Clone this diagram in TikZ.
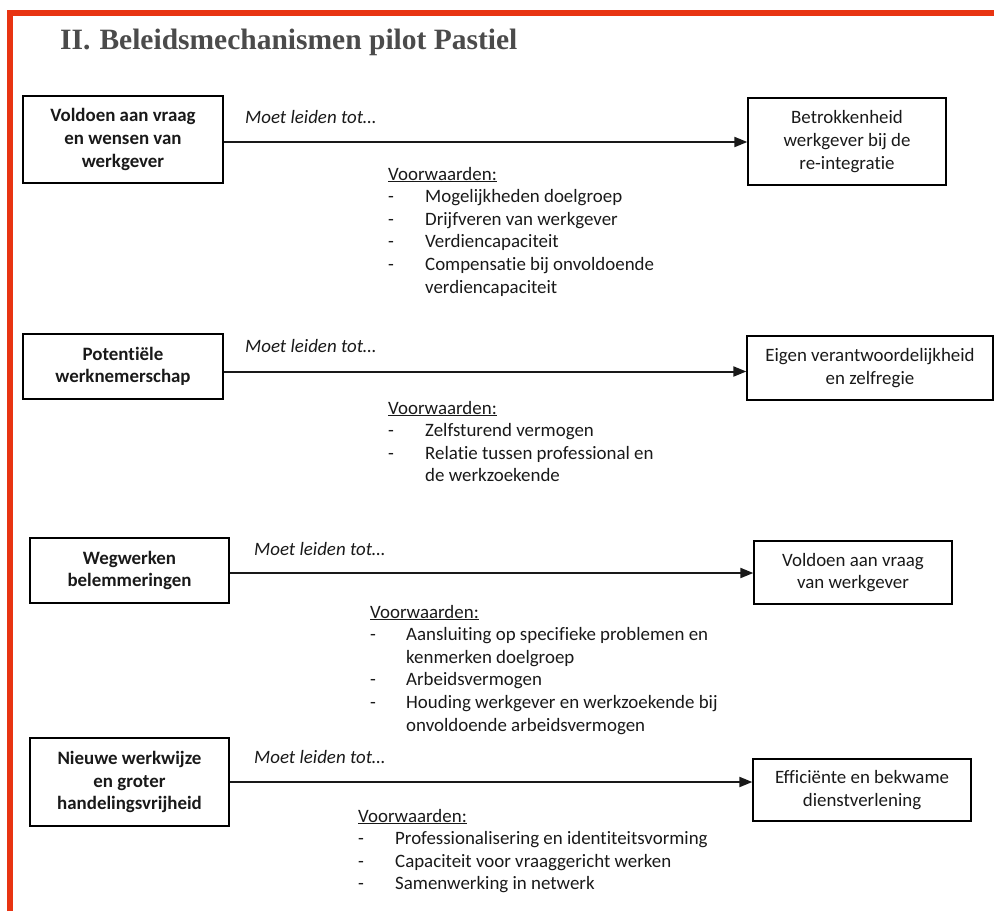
\documentclass[tikz,border=0pt]{standalone}
\usepackage{fontspec}
\setmainfont{Carlito}[Ligatures=NoCommon]
\newfontfamily\titelfont{Liberation Serif}
\usetikzlibrary{arrows.meta}
\definecolor{randrood}{RGB}{232,52,18}
\definecolor{inkt}{RGB}{25,25,25}
\definecolor{titelgrijs}{RGB}{75,75,75}
\newcommand{\tekst}{\fontsize{18.9}{22.6}\selectfont}
\tikzset{
        tekstnode/.style={align=center,inner sep=0pt,text=inkt,font=\tekst},
        % Oorzaak (links)
        node_oorzaak/.style={tekstnode, rectangle, draw=black, line width=1.3pt, font=\tekst\bfseries},
        % Gevolg (rechts)
        node_gevolg/.style={tekstnode, rectangle, draw=black, line width=1.3pt},
        % Moet leiden tot
        node_leiden/.style={tekstnode, anchor=base west, font=\tekst\itshape},
        % Voorwaarden
        node_voorwaarden/.style={tekstnode, anchor=base west, align=left}
}
\begin{document}
\begin{tikzpicture}[
            x=1pt, y=-1pt,
            pijl/.style={-{Triangle[length=13pt,width=10pt]}, line width=2pt, draw=inkt}
        ]
            \useasboundingbox (0,0) rectangle (994,911);
            \draw[randrood, line width=6pt] (10,911) -- (10,12.5) -- (994,12.5);
            \node[anchor=base west, inner sep=0pt, text=titelgrijs,
                font=\titelfont\fontsize{29.5}{31}\selectfont\bfseries] (titel) at (60,49)
                {II.\hspace{9pt}Beleidsmechanismen pilot Pastiel};

            % 1
            \node[node_oorzaak, minimum width=200pt, minimum height=87pt] (o1) at (123,139.5)
                {Voldoen aan vraag\\en wensen van\\werkgever};
            \node[node_gevolg, minimum width=198pt, minimum height=87pt] (g1) at (847,141.5)
                {Betrokkenheid\\werkgever bij de\\re-integratie};
            \node[node_leiden] (l1) at (245,123) {Moet leiden tot…};
            \node[node_voorwaarden] (v1) at (388,180) {\begin{tabular}[t]{@{}p{37pt}@{}l@{}}
                \multicolumn{2}{@{}l@{}}{\underline{Voorwaarden:}}\\
                - & Mogelijkheden doelgroep\\
                - & Drijfveren van werkgever\\
                - & Verdiencapaciteit\\
                - & Compensatie bij onvoldoende\\
                  & verdiencapaciteit
            \end{tabular}};
            \draw[pijl] ([yshift=-2.5pt]o1.east) -- ([yshift=-2.5pt]o1.east -| g1.west);

            % 2
            \node[node_oorzaak, minimum width=200pt, minimum height=65pt] (o2) at (123,366.5)
                {Potentiële\\werknemerschap};
            \node[node_gevolg, minimum width=246pt, minimum height=64pt] (g2) at (870,368)
                {Eigen verantwoordelijkheid\\en zelfregie};
            \node[node_leiden] (l2) at (245,352) {Moet leiden tot…};
            \node[node_voorwaarden] (v2) at (388,414) {\begin{tabular}[t]{@{}p{37pt}@{}l@{}}
                \multicolumn{2}{@{}l@{}}{\underline{Voorwaarden:}}\\
                - & Zelfsturend vermogen\\
                - & Relatie tussen professional en\\
                  & de werkzoekende
            \end{tabular}};
            \draw[pijl] ([yshift=-5pt]o2.east) -- ([yshift=-5pt]o2.east -| g2.west);

            % 3
            \node[node_oorzaak, minimum width=199pt, minimum height=65pt] (o3) at (129.5,570.5)
                {Wegwerken\\belemmeringen};
            \node[node_gevolg, minimum width=198pt, minimum height=63pt] (g3) at (853,572.5)
                {Voldoen aan vraag\\van werkgever};
            \node[node_leiden] (l3) at (254,555) {Moet leiden tot…};
            \node[node_voorwaarden] (v3) at (370,618) {\begin{tabular}[t]{@{}p{36pt}@{}l@{}}
                \multicolumn{2}{@{}l@{}}{\underline{Voorwaarden:}}\\
                - & Aansluiting op specifieke problemen en\\
                  & kenmerken doelgroep\\
                - & Arbeidsvermogen\\
                - & Houding werkgever en werkzoekende bij\\
                  & onvoldoende arbeidsvermogen
            \end{tabular}};
            \draw[pijl] ([yshift=-2.5pt]o3.east) -- ([yshift=-2.5pt]o3.east -| g3.west);

            % 4
            \node[node_oorzaak, minimum width=199pt, minimum height=88pt] (o4) at (129.5,782)
                {Nieuwe werkwijze\\en groter\\handelingsvrijheid};
            \node[node_gevolg, minimum width=218pt, minimum height=62pt] (g4) at (862,790)
                {Efficiënte en bekwame\\dienstverlening};
            \node[node_leiden] (l4) at (254,763) {Moet leiden tot…};
            \node[node_voorwaarden] (v4) at (358,822) {\begin{tabular}[t]{@{}p{37pt}@{}l@{}}
                \multicolumn{2}{@{}l@{}}{\underline{Voorwaarden:}}\\
                - & Professionalisering en identiteitsvorming\\
                - & Capaciteit voor vraaggericht werken\\
                - & Samenwerking in netwerk
            \end{tabular}};
            \draw[pijl] (o4.east) -- (o4.east -| g4.west);
        \end{tikzpicture}
\end{document}
